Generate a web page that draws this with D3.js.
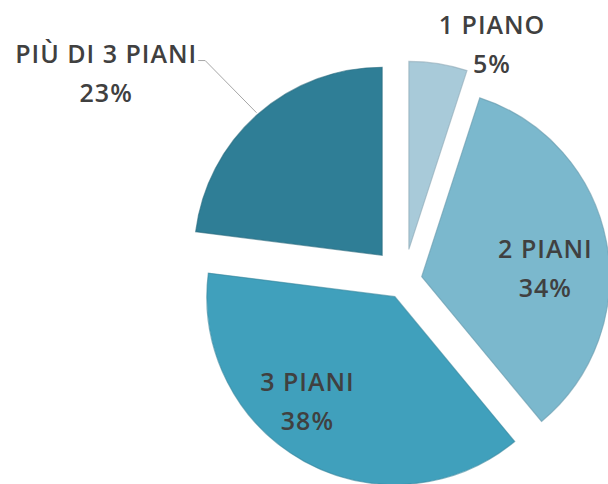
<!DOCTYPE html>
<html>
<head>
<meta charset="utf-8">
<script src="https://cdn.jsdelivr.net/npm/d3@7"></script>
<style>
	html, body { margin: 0; padding: 0; background: #fff; }
	svg { display: block; }
</style>
</head>
<body>
<div id="chart"></div>
<script>
'use strict';

// data, clockwise from 12 o'clock
const categories = ["1 PIANO", "2 PIANI", "3 PIANI", "PIÙ DI 3 PIANI"];
const values = [5, 34, 38, 23];
const pctLabels = ["5%", "34%", "38%", "23%"];
const colors = ["#a8cad9", "#7bb8cd", "#40a0bc", "#2f7e96"];

// layout
const width = 608;
const height = 484;
const center = { x: 404, y: 280 };
const radius = 188;
const explode = [31, 18, 19, 33];
// label anchor, polar from each slice's apex (deg, px)
const labelAngle = [22, 86, 220, 303.5];
const labelRadius = [222, 124, 136, 331];
const lineGap = 39;

const rad = (deg) => deg * Math.PI / 180;

const svg = d3
	.select("#chart")
	.append("svg")
		.attr("width", width)
		.attr("height", height)
	;

const pie = d3.pie()
	.sort(null)
	.value(d => d)
	;

const arcs = pie(values);

const arcGen = d3.arc()
	.innerRadius(0)
	.outerRadius(radius)
	;

// apex of each exploded slice
const apex = arcs.map((a, i) => {
	const mid = (a.startAngle + a.endAngle) / 2;
	return {
		x: center.x + explode[i] * Math.sin(mid),
		y: center.y - explode[i] * Math.cos(mid) };
});

svg.append("g")
	.selectAll("path")
	.data(arcs)
	.join("path")
		.attr("transform", (d, i) => `translate(${apex[i].x},${apex[i].y})`)
		.attr("d", arcGen)
		.attr("fill", (d, i) => colors[i])
		.attr("stroke", (d, i) => d3.color(colors[i]).darker(0.5))
		.attr("stroke-width", 1.2)
		.attr("stroke-opacity", 0.6)
	;

// label positions
const labelPos = arcs.map((a, i) => ({
	x: apex[i].x + labelRadius[i] * Math.sin(rad(labelAngle[i])),
	y: apex[i].y - labelRadius[i] * Math.cos(rad(labelAngle[i])) }));

const labels = svg.append("g")
	.attr("font-family", "'Open Sans', sans-serif")
	.attr("font-weight", 600)
	.attr("font-size", 25)
	.attr("letter-spacing", 1)
	.attr("fill", "#404040")
	.attr("text-anchor", "middle")
	.selectAll("text")
	.data(arcs)
	.join("text")
		.attr("x", (d, i) => labelPos[i].x)
		.attr("y", (d, i) => labelPos[i].y - 10)
	;

labels.append("tspan")
	.attr("class", "cat")
	.text((d, i) => categories[i])
	;

labels.append("tspan")
	.attr("x", (d, i) => labelPos[i].x)
	.attr("dy", lineGap)
	.text((d, i) => pctLabels[i])
	;

// leader line for the last slice
const k = 3;
const box = labels.filter((d, i) => i === k).select("tspan.cat").node().getBBox();
const midK = (arcs[k].startAngle + arcs[k].endAngle) / 2;
const edge = [
	apex[k].x + (radius + 2) * Math.sin(midK),
	apex[k].y - (radius + 2) * Math.cos(midK)];
const lineY = labelPos[k].y - 12;

svg.append("path")
	.attr("d", d3.line()([
		[box.x + box.width + 1, lineY],
		[box.x + box.width + 8, lineY],
		edge]))
	.attr("fill", "none")
	.attr("stroke", "#a6a6a6")
	.attr("stroke-width", 1)
	;
</script>
</body>
</html>
